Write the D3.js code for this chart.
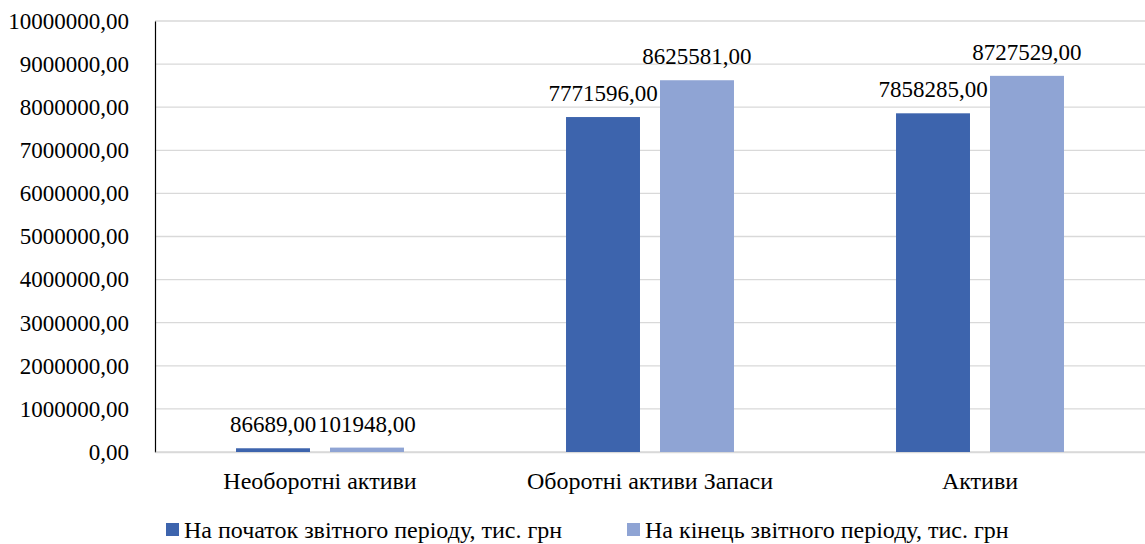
<!DOCTYPE html>
<html>
<head>
<meta charset="utf-8">
<script src="https://cdn.jsdelivr.net/npm/d3@7"></script>
<style>
  body { margin: 0; background: #fff; }
</style>
</head>
<body>
<div id="chart"></div>
<script>
// chart data
const categories = ["Необоротні активи", "Оборотні активи Запаси", "Активи"];
const seriesNames = ["На початок звітного періоду, тис. грн", "На кінець звітного періоду, тис. грн"];
const startValues = [86689, 7771596, 7858285];
const endValues = [101948, 8625581, 8727529];
const yTicks = [0, 1000000, 2000000, 3000000, 4000000, 5000000, 6000000, 7000000, 8000000, 9000000, 10000000];

const width = 1145, height = 544;
const margin = {left: 155, right: 0, top: 21, bottom: 92};
const colors = ["#3d64ad", "#8fa4d4"];
const font = "Liberation Serif";
const numSize = 23;   // numbers
const textSize = 24;  // category names and legend

const fmt = (v) => d3.format(".2f")(v).replace(".", ",");

const svg = d3.select("#chart").append("svg")
	.attr("width", width)
	.attr("height", height)
	.attr("font-family", font);

const x0 = d3.scaleBand()
	.domain(categories)
	.range([margin.left, width - margin.right]);

const x1 = d3.scaleBand()
	.domain([0, 1])
	.range([0, x0.bandwidth()])
	.paddingInner(0.213)
	.paddingOuter(0.862);

const y = d3.scaleLinear()
	.domain([0, 10000000])
	.range([height - margin.bottom, margin.top]);

// gridlines
svg.append("g").selectAll("line").data(yTicks).enter()
	.append("line")
	.attr("x1", margin.left)
	.attr("x2", width - margin.right)
	.attr("y1", (d) => y(d))
	.attr("y2", (d) => y(d))
	.attr("stroke", "#d9d9d9")
	.attr("stroke-width", 1.3);

// y axis
const yAxis = svg.append("g")
	.attr("transform", `translate(${margin.left},0)`)
	.call(d3.axisLeft(y).tickValues(yTicks).tickFormat(fmt).tickSize(0).tickPadding(26));
yAxis.attr("font-family", font).attr("font-size", numSize);
yAxis.select(".domain").attr("stroke", "#000").attr("stroke-width", 1.2);
yAxis.selectAll("text").attr("font-family", font).attr("font-size", numSize).attr("fill", "#000");

// x axis
const xAxis = svg.append("g")
	.attr("transform", `translate(0,${y(0)})`)
	.call(d3.axisBottom(x0).tickSize(0).tickPadding(20));
xAxis.attr("font-family", font).attr("font-size", textSize);
xAxis.select(".domain").attr("stroke", "#d9d9d9").attr("stroke-width", 1.3);
xAxis.selectAll("text").attr("font-family", font).attr("font-size", textSize).attr("fill", "#000");

// bars and value labels
const series = [startValues, endValues];
series.forEach(function(vals, s) {
	svg.append("g").selectAll("rect").data(vals).enter()
		.append("rect")
		.attr("x", (d, i) => x0(categories[i]) + x1(s))
		.attr("width", x1.bandwidth())
		.attr("y", (d) => y(d))
		.attr("height", (d) => y(0) - y(d))
		.attr("fill", colors[s]);

	svg.append("g").selectAll("text").data(vals).enter()
		.append("text")
		.attr("x", (d, i) => x0(categories[i]) + x1(s) + x1.bandwidth() / 2)
		.attr("y", (d) => y(d) - 16)
		.attr("text-anchor", "middle")
		.attr("font-family", font)
		.attr("font-size", numSize)
		.attr("fill", "#000")
		.text((d) => fmt(d));
});

// legend
const legendX = [166, 627];
const legend = svg.append("g").selectAll("g").data(seriesNames).enter()
	.append("g")
	.attr("transform", (d, i) => `translate(${legendX[i]},523)`);
legend.append("rect")
	.attr("width", 13)
	.attr("height", 13)
	.attr("fill", (d, i) => colors[i]);
legend.append("text")
	.attr("x", 18)
	.attr("y", 15)
	.attr("font-family", font)
	.attr("font-size", textSize)
	.attr("fill", "#000")
	.text((d) => d);
</script>
</body>
</html>
